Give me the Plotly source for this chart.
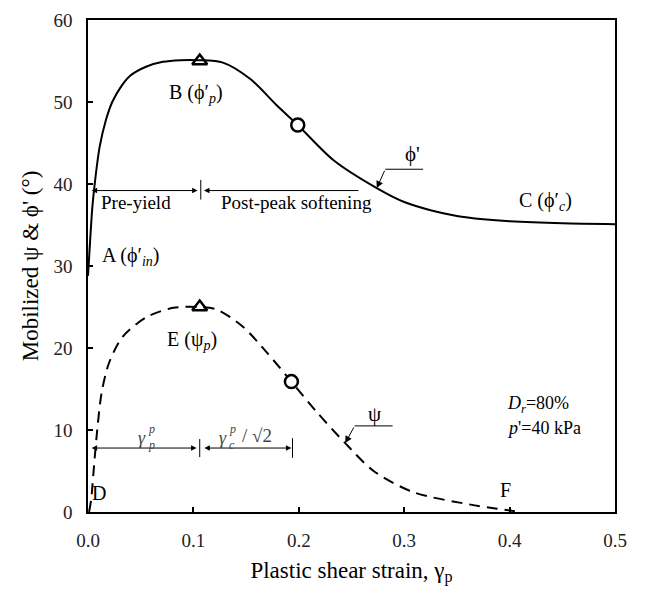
import plotly.graph_objects as go

# --- data ---
phi_x = [0.0, 0.0015, 0.004, 0.006, 0.011, 0.017, 0.023, 0.032, 0.04, 0.055, 0.071, 0.088, 0.105,
         0.128, 0.154, 0.179, 0.199, 0.233, 0.274, 0.3, 0.325, 0.35, 0.375, 0.4, 0.45, 0.5]
phi_y = [28.8, 32.0, 37.0, 39.6, 44.5, 47.8, 50.0, 52.0, 53.2, 54.3, 54.9, 55.1, 55.1,
         54.8, 52.8, 49.6, 47.2, 42.9, 39.5, 37.8, 36.8, 36.1, 35.7, 35.45, 35.2, 35.1]

psi_x = [0.001, 0.003, 0.005, 0.008, 0.013, 0.02, 0.033, 0.056, 0.081, 0.104,
         0.122, 0.147, 0.17, 0.193, 0.217, 0.244, 0.271, 0.309, 0.363, 0.388, 0.405]
psi_y = [0.0, 1.5, 4.5, 9.0, 14.6, 18.2, 21.4, 23.8, 24.9, 25.0,
         24.7, 22.6, 19.4, 15.9, 12.2, 8.4, 5.0, 2.4, 0.9, 0.4, 0.1]

peak_x = [0.106, 0.106]
peak_y = [55.0, 25.0]
mid_x = [0.199, 0.193]
mid_y = [47.2, 15.9]

FONT = "Liberation Serif"

fig = go.Figure()
fig.add_trace(go.Scatter(x=phi_x, y=phi_y, mode="lines",
                         line=dict(color="black", width=2, shape="spline", smoothing=0.8),
                         showlegend=False, hoverinfo="skip"))
fig.add_trace(go.Scatter(x=psi_x, y=psi_y, mode="lines",
                         line=dict(color="black", width=2, shape="spline", smoothing=0.8,
                                   dash="11px,7px"),
                         showlegend=False, hoverinfo="skip"))
fig.add_trace(go.Scatter(x=peak_x, y=peak_y, mode="markers",
                         marker=dict(symbol="triangle-up-open", size=13, color="black",
                                     line=dict(width=2.5, color="black")),
                         showlegend=False, hoverinfo="skip"))
fig.add_trace(go.Scatter(x=mid_x, y=mid_y, mode="markers",
                         marker=dict(symbol="circle", size=13, color="white",
                                     line=dict(width=2.5, color="black")),
                         showlegend=False, hoverinfo="skip"))

ann = []
def text(x, y, t, size=18, xanchor="center", color="black"):
    ann.append(dict(x=x, y=y, xref="x", yref="y", text=t, showarrow=False,
                    xanchor=xanchor, yanchor="middle",
                    font=dict(family=FONT, size=size, color=color)))

def arrow(x, y, ax, ay, side="end", head=2, size=1.0, width=1):
    ann.append(dict(x=x, y=y, ax=ax, ay=ay, xref="x", yref="y", axref="x", ayref="y",
                    text="", showarrow=True, arrowhead=head, startarrowhead=head,
                    arrowside=side, arrowsize=size, startarrowsize=size,
                    arrowwidth=width, arrowcolor="black"))

# upper range arrows
arrow(0.104, 39.2, 0.002, 39.2, side="end+start", head=2, size=1.1)
arrow(0.110, 39.2, 0.258, 39.2, side="end", head=2, size=1.1)
# lower range arrows
arrow(0.103, 7.8, 0.002, 7.8, side="end+start", head=2, size=1.1)
arrow(0.193, 7.8, 0.109, 7.8, side="end+start", head=2, size=1.1)
# leader arrows
arrow(0.274, 39.5, 0.282, 41.8, side="end", head=2, size=1.4, width=1)
arrow(0.244, 8.4, 0.253, 10.5, side="end", head=2, size=1.4, width=1)

text(0.046, 37.8, "Pre-yield", 19)
text(0.198, 37.8, "Post-peak softening", 19)
text(0.011, 31.1, "A (ϕ′<sub><i>in</i></sub>)", 20, "left")
text(0.0746, 51.0, "B (ϕ′<sub><i>p</i></sub>)", 20, "left")
text(0.407, 37.9, "C (ϕ′<sub><i>c</i></sub>)", 20, "left")
text(0.0727, 20.9, "E (ψ<sub><i>p</i></sub>)", 20, "left")
text(0.002, 2.3, "D", 20, "left")
text(0.396, 2.7, "F", 20)
text(0.3075, 43.6, "ϕ'", 21)
text(0.272, 12.0, "ψ", 21)
text(0.396, 13.1, "<i>D<sub>r</sub></i>=80%", 18, "left")
text(0.396, 10.3, "<i>p</i>'=40 kPa", 18, "left")
text(0.051, 9.0, "<i>γ</i>", 18, color="#444")
text(0.060, 10.1, "<i>p</i>", 12, color="#444")
text(0.060, 8.2, "<i>p</i>", 12, color="#444")
text(0.128, 9.0, "<i>γ</i>", 18, color="#444")
text(0.137, 10.1, "<i>p</i>", 12, color="#444")
text(0.137, 8.2, "<i>c</i>", 12, color="#444")
text(0.160, 9.3, "/ √2", 19, color="#444")

shapes = [
    # vertical ticks on range arrows
    dict(type="line", xref="x", yref="y", x0=0.107, x1=0.107, y0=38.1, y1=40.5,
         line=dict(color="black", width=1)),
    dict(type="line", xref="x", yref="y", x0=0.106, x1=0.106, y0=6.7, y1=8.9,
         line=dict(color="black", width=1)),
    dict(type="line", xref="x", yref="y", x0=0.194, x1=0.194, y0=6.6, y1=9.0,
         line=dict(color="black", width=1)),
    # leader horizontals
    dict(type="line", xref="x", yref="y", x0=0.282, x1=0.318, y0=41.8, y1=41.8,
         line=dict(color="black", width=1)),
    dict(type="line", xref="x", yref="y", x0=0.253, x1=0.289, y0=10.5, y1=10.5,
         line=dict(color="black", width=1)),
]

axis_common = dict(showline=True, mirror=True, linecolor="black", linewidth=1.5,
                   ticks="inside", ticklen=5, tickwidth=1.5, tickcolor="black",
                   showgrid=False, zeroline=False,
                   tickfont=dict(family=FONT, size=19, color="#222"))

fig.update_layout(
    width=646, height=592,
    font=dict(family=FONT, color="black"),
    margin=dict(l=88, r=31, t=10, b=80),
    paper_bgcolor="white", plot_bgcolor="white",
    annotations=ann, shapes=shapes,
    xaxis=dict(range=[0, 0.5], dtick=0.1, tickformat=".1f", ticklabelstandoff=10,
               title=dict(text="Plastic shear strain, γ<sub>p</sub>",
                          font=dict(family=FONT, size=23, color="black"), standoff=12),
               **axis_common),
    yaxis=dict(range=[0, 60], dtick=10, ticklabelstandoff=10,
               title=dict(text="Mobilized ψ & ϕ' (°)",
                          font=dict(family=FONT, size=23, color="black"), standoff=8),
               **axis_common),
)

fig.write_html("out.html")
